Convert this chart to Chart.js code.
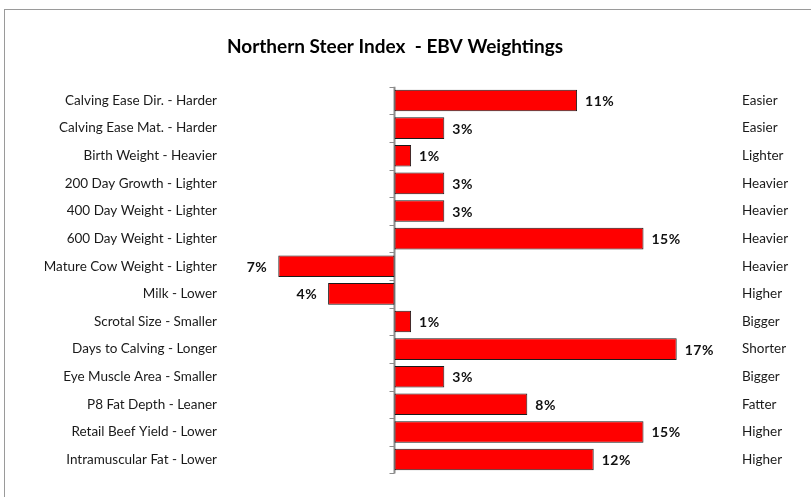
<!DOCTYPE html>
<html>
<head>
<meta charset="utf-8">
<script src="https://cdn.jsdelivr.net/npm/chart.js@4.4.1/dist/chart.umd.min.js"></script>
<style>
  html, body { margin: 0; padding: 0; background: #fff; }
  #wrap { position: relative; width: 811px; height: 497px; overflow: hidden; }
  #frame { position: absolute; left: 4px; top: 9px; width: 830px; height: 520px;
           border: 1.5px solid #9a9a9a; box-sizing: border-box; }
  canvas { position: absolute; left: 0; top: 0; }
</style>
</head>
<body>
<div id="wrap">
  <div id="frame"></div>
  <canvas id="chart" width="790" height="497"></canvas>
</div>
<script>
const traits = [
  'Calving Ease Dir. - Harder', 'Calving Ease Mat. - Harder', 'Birth Weight - Heavier',
  '200 Day Growth - Lighter', '400 Day Weight - Lighter', '600 Day Weight - Lighter',
  'Mature Cow Weight - Lighter', 'Milk - Lower', 'Scrotal Size - Smaller',
  'Days to Calving - Longer', 'Eye Muscle Area - Smaller', 'P8 Fat Depth - Leaner',
  'Retail Beef Yield - Lower', 'Intramuscular Fat - Lower'
];
const favoured = [
  'Easier', 'Easier', 'Lighter', 'Heavier', 'Heavier', 'Heavier', 'Heavier',
  'Higher', 'Bigger', 'Shorter', 'Bigger', 'Fatter', 'Higher', 'Higher'
];
const weights = [11, 3, 1, 3, 3, 15, -7, -4, 1, 17, 3, 8, 15, 12];

const FONT = 'Lato, "Open Sans", sans-serif';

// zero axis line + little tick marks between categories
const zeroAxis = {
  id: 'zeroAxis',
  beforeDatasetsDraw(chart) {
    const { ctx, chartArea, scales } = chart;
    const x0 = scales.x.getPixelForValue(0);
    const n = traits.length;
    const band = (chartArea.bottom - chartArea.top) / n;
    ctx.save();
    ctx.strokeStyle = '#8c8c8c';
    ctx.lineWidth = 2;
    ctx.beginPath();
    ctx.moveTo(x0, chartArea.top);
    ctx.lineTo(x0, chartArea.bottom);
    ctx.stroke();
    ctx.lineWidth = 1;
    for (let i = 0; i <= n; i++) {
      const y = Math.round(chartArea.top + i * band) + 0.5;
      ctx.beginPath();
      ctx.moveTo(x0 - 5, y);
      ctx.lineTo(x0, y);
      ctx.stroke();
    }
    ctx.restore();
  }
};

// bold % labels at the end of each bar
const valueLabels = {
  id: 'valueLabels',
  afterDatasetsDraw(chart) {
    const { ctx } = chart;
    const meta = chart.getDatasetMeta(0);
    ctx.save();
    ctx.font = 'bold 14px ' + FONT;
    ctx.letterSpacing = '0.5px';
    ctx.fillStyle = '#111';
    ctx.textBaseline = 'middle';
    meta.data.forEach((bar, i) => {
      const v = weights[i];
      const txt = Math.abs(v) + '%';
      if (v >= 0) {
        ctx.textAlign = 'left';
        ctx.fillText(txt, bar.x + 8, bar.y + 1);
      } else {
        ctx.textAlign = 'right';
        ctx.fillText(txt, bar.x - 11, bar.y + 1);
      }
    });
    ctx.restore();
  }
};

new Chart(document.getElementById('chart'), {
  type: 'bar',
  data: {
    labels: traits,
    datasets: [{
      data: weights,
      backgroundColor: '#ff0000',
      borderColor: '#1a1a1a',
      borderWidth: 1,
      borderSkipped: false,
      barPercentage: 0.78,
      categoryPercentage: 1
    }]
  },
  options: {
    indexAxis: 'y',
    responsive: false,
    animation: false,
    layout: { padding: { top: 0, bottom: 14, left: 0, right: 0 } },
    plugins: {
      legend: { display: false },
      tooltip: { enabled: false },
      title: {
        display: true,
        text: 'Northern Steer Index  - EBV Weightings',
        color: '#000',
        font: { family: FONT, size: 19, weight: 'bold', lineHeight: 1.2 },
        padding: { top: 35, bottom: 28.9 }
      }
    },
    scales: {
      x: { display: false, min: -10, max: 20 },
      y: {
        position: 'left',
        grid: { display: false, drawTicks: false },
        border: { display: false },
        ticks: { color: '#1a1a1a', padding: 11.5, font: { family: FONT, size: 13.5 } },
        afterFit(scale) { scale.width = 228.5; }
      },
      y2: {
        type: 'category',
        position: 'right',
        labels: favoured,
        offset: true,
        grid: { display: false, drawTicks: false },
        border: { display: false },
        ticks: { color: '#1a1a1a', padding: 15.5, font: { family: FONT, size: 13.5 } },
        afterFit(scale) { scale.width = 63.5; }
      }
    }
  },
  plugins: [zeroAxis, valueLabels]
});
</script>
</body>
</html>
